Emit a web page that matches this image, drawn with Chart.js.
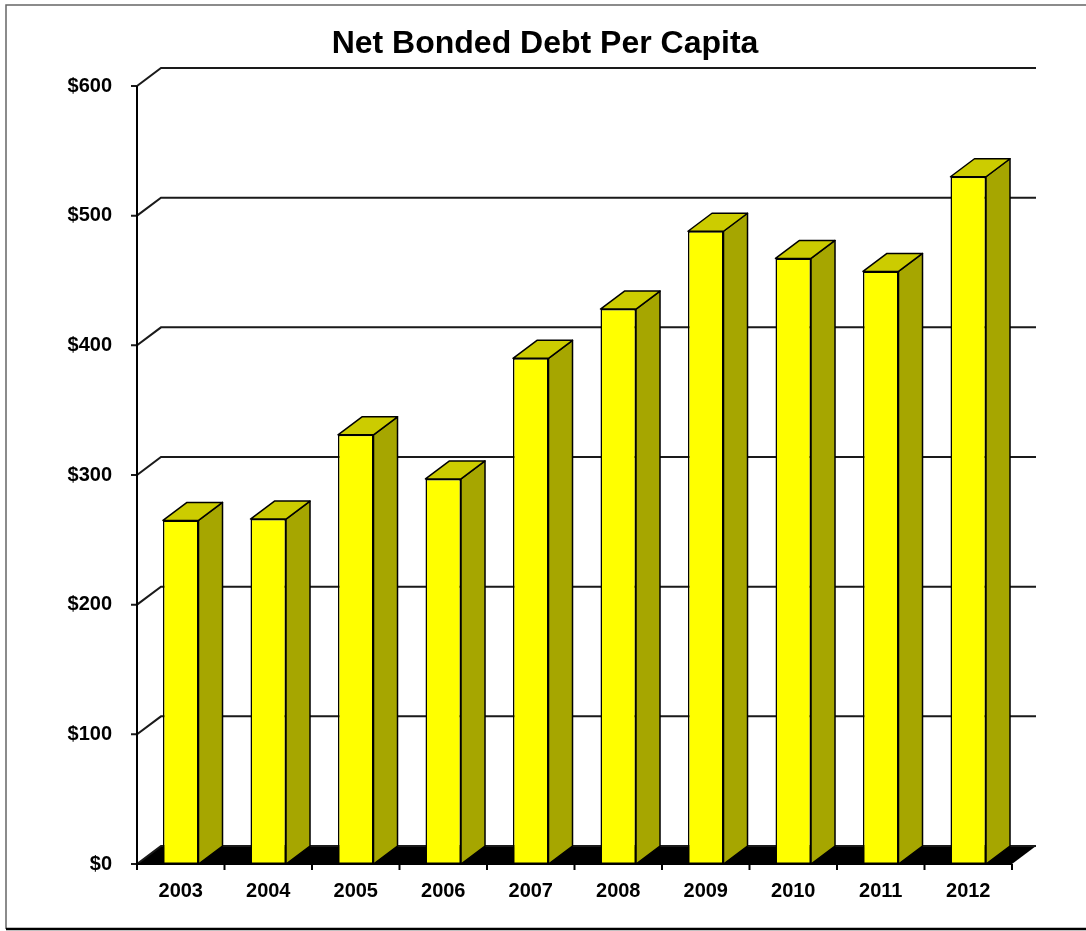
<!DOCTYPE html>
<html>
<head>
<meta charset="utf-8">
<script src="https://cdn.jsdelivr.net/npm/chart.js@4.4.0/dist/chart.umd.min.js"></script>
<style>
  html, body { margin: 0; padding: 0; background: #fff; }
</style>
</head>
<body>
<canvas id="graficoDeuda" width="1086" height="931"></canvas>
<script>
const anios = ['2003', '2004', '2005', '2006', '2007', '2008', '2009', '2010', '2011', '2012'];
const deudaPerCapita = [265, 266, 331, 297, 390, 428, 488, 467, 457, 530];
const marcasY = [0, 100, 200, 300, 400, 500, 600];

// profundidad del efecto 3D (hacia arriba y a la derecha)
const PX = 24;
const PY = -18;

const caja3d = {
    id: 'caja3d',
    beforeDraw(chart) {
        const { ctx, width, height } = chart;
        ctx.save();
        ctx.fillStyle = '#fff';
        ctx.fillRect(0, 0, width, height);
        // marco exterior
        ctx.strokeStyle = '#666';
        ctx.lineWidth = 1.5;
        ctx.beginPath();
        ctx.moveTo(width, 5);
        ctx.lineTo(6, 5);
        ctx.lineTo(6, 929);
        ctx.stroke();
        ctx.strokeStyle = '#000';
        ctx.lineWidth = 2.5;
        ctx.beginPath();
        ctx.moveTo(6, 929);
        ctx.lineTo(width, 929);
        ctx.stroke();
        ctx.restore();
    },
    beforeDatasetsDraw(chart) {
        const { ctx, chartArea: a, scales: { x, y } } = chart;
        const y0 = y.getPixelForValue(0);
        ctx.save();

        // piso negro
        ctx.fillStyle = '#000';
        ctx.beginPath();
        ctx.moveTo(a.left, y0);
        ctx.lineTo(a.right, y0);
        ctx.lineTo(a.right + PX, y0 + PY);
        ctx.lineTo(a.left + PX, y0 + PY);
        ctx.closePath();
        ctx.fill();

        // lineas de la grilla en la pared del fondo
        ctx.strokeStyle = '#1a1a1a';
        ctx.lineWidth = 2;
        ctx.lineJoin = 'miter';
        marcasY.forEach(v => {
            const py = y.getPixelForValue(v);
            ctx.beginPath();
            ctx.moveTo(a.left - 6, py);
            ctx.lineTo(a.left, py);
            ctx.lineTo(a.left + PX, py + PY);
            ctx.lineTo(a.right + PX, py + PY);
            ctx.stroke();
        });

        // eje Y
        ctx.strokeStyle = '#000';
        ctx.beginPath();
        ctx.moveTo(a.left, y.getPixelForValue(marcasY[marcasY.length - 1]));
        ctx.lineTo(a.left, y0);
        ctx.stroke();

        // eje X con marcas entre categorias
        ctx.beginPath();
        ctx.moveTo(a.left, y0);
        ctx.lineTo(a.right, y0);
        for (let i = 0; i <= anios.length; i++) {
            const px = x.getPixelForValue(i - 0.5);
            ctx.moveTo(px, y0);
            ctx.lineTo(px, y0 + 6);
        }
        ctx.stroke();
        ctx.restore();
    },
    afterDatasetsDraw(chart) {
        const { ctx } = chart;
        const barras = chart.getDatasetMeta(0).data;
        ctx.save();
        ctx.strokeStyle = '#000';
        ctx.lineWidth = 1.5;
        ctx.lineJoin = 'round';
        barras.forEach(b => {
            const izq = b.x - b.width / 2;
            const der = b.x + b.width / 2;
            const arriba = b.y;
            const base = b.base;

            // cara lateral
            ctx.fillStyle = '#a6a600';
            ctx.beginPath();
            ctx.moveTo(der, arriba);
            ctx.lineTo(der + PX, arriba + PY);
            ctx.lineTo(der + PX, base + PY);
            ctx.lineTo(der, base);
            ctx.closePath();
            ctx.fill();
            ctx.stroke();

            // cara superior
            ctx.fillStyle = '#cccc00';
            ctx.beginPath();
            ctx.moveTo(izq, arriba);
            ctx.lineTo(izq + PX, arriba + PY);
            ctx.lineTo(der + PX, arriba + PY);
            ctx.lineTo(der, arriba);
            ctx.closePath();
            ctx.fill();
            ctx.stroke();
        });
        ctx.restore();
    }
};

Chart.defaults.font.family = '"Liberation Sans", Arial, sans-serif';
Chart.defaults.color = '#000';

const ctx = document.getElementById('graficoDeuda').getContext('2d');
new Chart(ctx, {
    type: 'bar',
    data: {
        labels: anios,
        datasets: [{
            data: deudaPerCapita,
            backgroundColor: '#ffff00',
            borderColor: '#000',
            borderWidth: 1.5,
            borderSkipped: false,
            categoryPercentage: 1,
            barPercentage: 0.406
        }]
    },
    options: {
        responsive: false,
        animation: false,
        layout: {
            padding: { left: 4, right: 0, top: 0, bottom: 0 }
        },
        scales: {
            x: {
                grid: { display: false, drawTicks: false },
                border: { display: false },
                ticks: {
                    padding: 15,
                    font: { size: 20, weight: 'bold' }
                },
                afterFit: scale => { scale.height = 67; }
            },
            y: {
                min: 0,
                max: 600,
                grid: { display: false, drawTicks: false },
                border: { display: false },
                ticks: {
                    stepSize: 100,
                    padding: 25,
                    font: { size: 20, weight: 'bold' },
                    callback: v => '$' + v
                },
                afterFit: scale => { scale.width = 133; }
            },
            // eje vacio a la derecha: deja el margen para la profundidad
            margenDer: {
                position: 'right',
                min: 0,
                max: 600,
                grid: { display: false, drawTicks: false },
                border: { display: false },
                ticks: { display: false },
                afterFit: scale => { scale.width = 74; }
            }
        },
        plugins: {
            legend: { display: false },
            tooltip: { enabled: false },
            title: {
                display: true,
                text: 'Net Bonded Debt Per Capita',
                font: { size: 32, weight: 'bold' },
                padding: { top: 25, bottom: 22.6 }
            }
        }
    },
    plugins: [caja3d]
});
</script>
</body>
</html>
